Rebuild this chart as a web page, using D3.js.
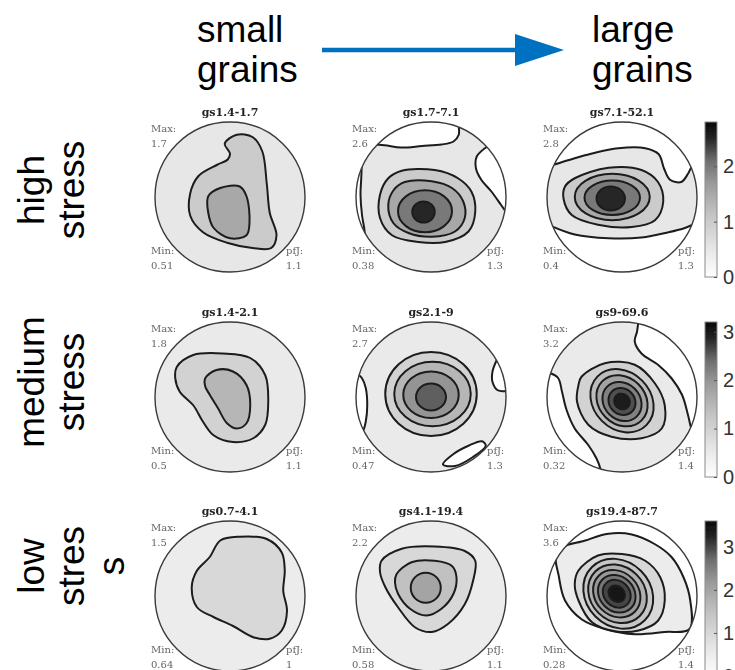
<!DOCTYPE html>
<html>
<head>
<meta charset="utf-8">
<script src="https://cdn.jsdelivr.net/npm/d3@7"></script>
<style>
  html, body { margin: 0; padding: 0; background: #fff; }
  svg { display: block; }
</style>
</head>
<body>
<svg id="fig" width="735" height="670"></svg>
<script>
// ---- labels -------------------------------------------------------------
const columnHeads = [["small", "grains"], ["large", "grains"]];
const rowLabels = [["high", "stress"], ["medium", "stress"], ["low", "stres", "s"]];

// ---- per-panel statistics (rows: stress level, columns: grain size bin) ---
const titles = [
  ["gs1.4-1.7", "gs1.7-7.1", "gs7.1-52.1"],
  ["gs1.4-2.1", "gs2.1-9", "gs9-69.6"],
  ["gs0.7-4.1", "gs4.1-19.4", "gs19.4-87.7"]
];
const maxVals = [[1.7, 2.6, 2.8], [1.8, 2.7, 3.2], [1.5, 2.2, 3.6]];
const minVals = [[0.51, 0.38, 0.4], [0.5, 0.47, 0.32], [0.64, 0.58, 0.28]];
const pfjVals = [[1.1, 1.3, 1.3], [1.1, 1.3, 1.4], [1, 1.1, 1.4]];
const colorbarTicks = [[0, 1, 2], [0, 1, 2, 3], [0, 1, 2, 3]];

// density band that fills the disk before any contour is drawn
const baseBands = [[0.5, 0.5, 0.5], [0.5, 0.5, 0.5], [0.5, 0.5, 0]];

// ---- contour regions, in pole-figure coordinates (unit disk, y up) --------
// band: lower density bound of the enclosed region (0 = below the lowest level)
// pts: contour line; out: points beyond the rim that close a region cut by it
// e/ax/rot: near-elliptic contour (centre, semi-axes, tilt in degrees)
const pf11 = [
  { band: 1, pts: [[-0.07,0.71],[0.09,0.83],[0.30,0.80],[0.43,0.61],[0.49,0.18],[0.53,-0.21],[0.62,-0.51],[0.55,-0.68],[0.30,-0.68],[-0.04,-0.61],[-0.36,-0.47],[-0.53,-0.25],[-0.53,0.05],[-0.42,0.28],[-0.17,0.43],[-0.03,0.50],[0.00,0.58]] },
  { band: 1.5, pts: [[-0.29,0.01],[-0.13,0.12],[0.13,0.14],[0.22,0.01],[0.26,-0.34],[0.22,-0.51],[0.0,-0.55],[-0.22,-0.41],[-0.29,-0.21]] }
];
const pf12 = [
  { band: 0, pts: [[-0.78,0.70],[-0.62,0.69],[-0.40,0.66],[-0.12,0.68],[0.14,0.70],[0.30,0.74],[0.37,0.83],[0.37,0.96],[0.38,1.06]], out: [[0.45,1.3],[-0.9,1.2]] },
  { band: 0, pts: [[0.76,0.68],[0.61,0.54],[0.60,0.38],[0.67,0.23],[0.80,0.08],[0.93,-0.10],[1.0,-0.2]], out: [[1.3,-0.2],[1.2,0.8]] },
  { band: 0, pts: [[-0.90,0.56],[-0.92,0.45],[-0.93,0.25],[-0.94,0.03],[-0.92,-0.24],[-0.89,-0.42],[-0.88,-0.52]], out: [[-1.3,-0.5],[-1.3,0.6]] },
  { band: 1, pts: [[-0.39,0.35],[0.05,0.36],[0.36,0.25],[0.54,0.07],[0.59,-0.20],[0.50,-0.46],[0.19,-0.60],[-0.17,-0.60],[-0.52,-0.51],[-0.68,-0.28],[-0.68,0.03],[-0.57,0.25]] },
  { band: 1.5, pts: [[-0.35,0.20],[0.01,0.21],[0.28,0.12],[0.43,-0.06],[0.45,-0.28],[0.32,-0.46],[0.01,-0.53],[-0.30,-0.48],[-0.50,-0.35],[-0.57,-0.11],[-0.50,0.09]] },
  { band: 2, e: [-0.08,-0.19], ax: [0.36,0.28] },
  { band: 2.5, e: [-0.10,-0.20], ax: [0.15,0.14] }
];
const pf13 = [
  { band: 0, pts: [[-1.0,0.42],[-0.92,0.43],[-0.72,0.49],[-0.40,0.58],[-0.05,0.65],[0.31,0.65],[0.49,0.57],[0.56,0.38],[0.64,0.23],[0.79,0.20],[0.88,0.31],[0.93,0.40],[0.97,0.42]], out: [[1.3,0.5],[0.9,1.3],[-0.9,1.3],[-1.3,0.5]] },
  { band: 0, pts: [[-1.0,-0.36],[-0.96,-0.38],[-0.63,-0.50],[-0.18,-0.55],[0.26,-0.54],[0.62,-0.47],[0.82,-0.42],[0.92,-0.38],[0.98,-0.35]], out: [[1.3,-0.4],[0.9,-1.3],[-0.9,-1.3],[-1.3,-0.4]] },
  { band: 1, pts: [[-0.63,0.25],[-0.18,0.39],[0.26,0.36],[0.48,0.20],[0.55,-0.06],[0.44,-0.31],[0.13,-0.40],[-0.32,-0.37],[-0.67,-0.24],[-0.78,-0.02],[-0.76,0.14]] },
  { band: 1.5, e: [-0.13,0.0], ax: [0.50,0.31] },
  { band: 2, e: [-0.13,-0.01], ax: [0.37,0.23] },
  { band: 2.5, e: [-0.15,-0.02], ax: [0.19,0.16] }
];
const pf21 = [
  { band: 1, pts: [[-0.71,0.40],[-0.49,0.56],[-0.09,0.58],[0.27,0.52],[0.47,0.29],[0.51,-0.06],[0.47,-0.37],[0.31,-0.55],[0.04,-0.60],[-0.22,-0.51],[-0.36,-0.33],[-0.49,-0.11],[-0.67,0.07],[-0.73,0.25]] },
  { band: 1.5, pts: [[-0.33,0.25],[-0.18,0.36],[0.04,0.34],[0.22,0.16],[0.27,-0.11],[0.22,-0.35],[0.09,-0.42],[-0.04,-0.35],[-0.16,-0.15],[-0.27,0.03],[-0.33,0.14]] }
];
const pf22 = [
  { band: 0, pts: [[-0.97,0.30],[-0.92,0.25],[-0.87,0.12],[-0.85,-0.11],[-0.87,-0.33],[-0.90,-0.44],[-0.93,-0.48]], out: [[-1.3,-0.5],[-1.3,0.3]] },
  { band: 0, pts: [[0.88,0.50],[0.82,0.34],[0.82,0.20],[0.89,0.09],[1.0,0.08]], out: [[1.3,0.1],[1.2,0.6]] },
  { band: 0, pts: [[0.16,-0.90],[0.30,-0.76],[0.50,-0.65],[0.68,-0.59],[0.73,-0.65],[0.56,-0.80],[0.32,-0.92]] },
  { band: 1, e: [0.0,0.04], ax: [0.61,0.56] },
  { band: 1.5, e: [0.02,0.04], ax: [0.51,0.43] },
  { band: 2, e: [0.0,0.03], ax: [0.37,0.31] },
  { band: 2.5, e: [0.0,0.0], ax: [0.20,0.18] }
];
const pf23 = [
  { band: 0, pts: [[0.22,1.02],[0.20,0.87],[0.17,0.74],[0.26,0.58],[0.48,0.43],[0.66,0.25],[0.80,0.03],[0.88,-0.24],[0.91,-0.37],[0.93,-0.44]], out: [[1.3,-0.4],[1.2,1.0],[0.3,1.3]] },
  { band: 0, pts: [[-1.02,0.33],[-0.96,0.32],[-0.85,0.25],[-0.80,0.07],[-0.74,-0.17],[-0.63,-0.42],[-0.45,-0.64],[-0.34,-0.82],[-0.29,-0.95],[-0.28,-1.03]], out: [[-0.3,-1.3],[-1.3,-1.0],[-1.3,0.4]] },
  { band: 1, pts: [[-0.54,0.27],[-0.23,0.45],[0.17,0.43],[0.44,0.18],[0.57,-0.11],[0.53,-0.42],[0.26,-0.55],[-0.14,-0.53],[-0.45,-0.37],[-0.60,-0.06],[-0.58,0.16]] },
  { band: 1.4, e: [0.0,-0.05], ax: [0.46,0.38], rot: -45 },
  { band: 1.8, e: [0.0,-0.05], ax: [0.37,0.31], rot: -45 },
  { band: 2.2, e: [0.0,-0.06], ax: [0.28,0.24], rot: -45 },
  { band: 2.6, e: [0.0,-0.06], ax: [0.19,0.17], rot: -45 },
  { band: 3.0, e: [0.0,-0.06], ax: [0.11,0.10], rot: -45 }
];
const pf31 = [
  { band: 1, pts: [[-0.13,0.74],[0.13,0.79],[0.49,0.76],[0.69,0.58],[0.73,0.34],[0.71,0.07],[0.76,-0.20],[0.69,-0.46],[0.53,-0.57],[0.31,-0.55],[0.04,-0.40],[-0.22,-0.28],[-0.44,-0.15],[-0.51,0.12],[-0.44,0.34],[-0.27,0.52]] }
];
const pf32 = [
  { band: 1, pts: [[-0.66,0.47],[-0.39,0.63],[0.05,0.66],[0.45,0.60],[0.59,0.47],[0.56,0.20],[0.45,-0.11],[0.23,-0.37],[0.01,-0.48],[-0.21,-0.42],[-0.44,-0.15],[-0.61,0.12],[-0.68,0.32]] },
  { band: 1.5, pts: [[-0.46,0.29],[-0.26,0.45],[0.05,0.47],[0.28,0.40],[0.34,0.25],[0.30,0.03],[0.14,-0.17],[-0.06,-0.26],[-0.28,-0.17],[-0.44,0.03],[-0.48,0.18]] },
  { band: 2, e: [-0.07,0.11], ax: [0.20,0.20] }
];
const pf33 = [
  { band: 0.5, pts: [[-0.87,0.60],[-0.49,0.74],[-0.18,0.83],[0.13,0.82],[0.44,0.69],[0.66,0.52],[0.82,0.25],[0.91,-0.06],[0.90,-0.44],[0.57,-0.48],[0.17,-0.51],[-0.23,-0.44],[-0.54,-0.31],[-0.76,-0.06],[-0.84,0.25]] },
  { band: 1, pts: [[-0.58,0.34],[-0.32,0.54],[0.0,0.56],[0.31,0.47],[0.51,0.25],[0.57,-0.06],[0.48,-0.33],[0.22,-0.46],[-0.09,-0.47],[-0.40,-0.35],[-0.58,-0.06],[-0.63,0.16]] },
  { band: 1.4, e: [-0.05,0.03], ax: [0.50,0.43], rot: -45 },
  { band: 1.8, e: [-0.06,0.03], ax: [0.42,0.36], rot: -45 },
  { band: 2.2, e: [-0.07,0.03], ax: [0.34,0.29], rot: -45 },
  { band: 2.6, e: [-0.07,0.03], ax: [0.27,0.23], rot: -45 },
  { band: 3.0, e: [-0.07,0.03], ax: [0.20,0.17], rot: -45 },
  { band: 3.4, e: [-0.07,0.03], ax: [0.12,0.10], rot: -45 }
];
const contourSets = [[pf11, pf12, pf13], [pf21, pf22, pf23], [pf31, pf32, pf33]];

// ---- layout -------------------------------------------------------------
const colX = [230, 431, 622];
const rowY = [197, 397, 596];
const R = 75;
const labelCenters = [190, 382, 566];

const svg = d3.select("#fig");
const defs = svg.append("defs");
defs.append("filter").attr("id", "soft").attr("x", "-5%").attr("y", "-5%").attr("width", "110%").attr("height", "110%")
  .append("feGaussianBlur").attr("stdDeviation", 0.5);

// white -> black grey ramp used both for contour fills and for the colour bars
const tone = d3.scaleLinear()
  .domain([0, 0.2, 0.4, 0.6, 0.75, 0.9, 1])
  .range([255, 228, 196, 155, 110, 35, 10])
  .clamp(true);
const shade = (v, vmax) => { const g = Math.round(tone(v / vmax)); return d3.rgb(g, g, g).formatHex(); };

const closedLine = d3.line().curve(d3.curveCatmullRomClosed.alpha(0.5));
const openLine = d3.line().curve(d3.curveCatmullRom.alpha(0.5));
const LINE = "#1c1c1c";

// ---- header --------------------------------------------------------------
const headX = [197, 592];
columnHeads.forEach((lines, i) => {
  const t = svg.append("text")
    .attr("font-family", "'Liberation Sans', Arial, sans-serif")
    .attr("font-size", 37).attr("fill", "#000");
  lines.forEach((s, k) => t.append("tspan").attr("x", headX[i]).attr("y", 42 + k * 40).text(s));
});
svg.append("line").attr("x1", 322).attr("y1", 50).attr("x2", 520).attr("y2", 50)
  .attr("stroke", "#0070c0").attr("stroke-width", 4.5);
svg.append("path").attr("d", "M515,34 L564,50 L515,66 Z").attr("fill", "#0070c0");

// ---- row labels (rotated, one text line per entry) -------------------------
rowLabels.forEach((lines, r) => {
  lines.forEach((s, k) => {
    svg.append("text")
      .attr("transform", `translate(${44 + k * 40},${labelCenters[r]}) rotate(-90)`)
      .attr("text-anchor", "middle")
      .attr("font-family", "'Liberation Sans', Arial, sans-serif")
      .attr("font-size", 37).attr("fill", "#000")
      .text(s);
  });
});

// ---- pole figures --------------------------------------------------------
const serif = "'DejaVu Serif', 'Liberation Serif', serif";
contourSets.forEach((row, r) => {
  const vmax = d3.max(maxVals[r]);
  row.forEach((regions, c) => {
    const cx = colX[c], cy = rowY[r];
    const x = d3.scaleLinear([-1, 1], [cx - R, cx + R]);
    const y = d3.scaleLinear([-1, 1], [cy + R, cy - R]);
    const id = `disk${r}${c}`;
    defs.append("clipPath").attr("id", id)
      .append("circle").attr("cx", cx).attr("cy", cy).attr("r", R);

    const g = svg.append("g").attr("filter", "url(#soft)");
    const body = g.append("g").attr("clip-path", `url(#${id})`);
    body.append("circle").attr("cx", cx).attr("cy", cy).attr("r", R)
      .attr("fill", shade(baseBands[r][c], vmax));

    regions.forEach(reg => {
      const fill = shade(reg.band, vmax);
      if (reg.e) {
        const ex = x(reg.e[0]), ey = y(reg.e[1]);
        body.append("ellipse")
          .attr("cx", ex).attr("cy", ey)
          .attr("rx", x(reg.ax[0]) - x(0)).attr("ry", y(0) - y(reg.ax[1]))
          .attr("transform", `rotate(${-(reg.rot || 0)},${ex},${ey})`)
          .attr("fill", fill).attr("stroke", LINE).attr("stroke-width", 2);
      } else if (reg.out) {
        const P = reg.pts.map(d => [x(d[0]), y(d[1])]);
        const O = reg.out.map(d => [x(d[0]), y(d[1])]);
        body.append("path")
          .attr("d", openLine(P) + O.map(d => `L${d[0]},${d[1]}`).join("") + "Z")
          .attr("fill", fill);
        body.append("path").attr("d", openLine(P))
          .attr("fill", "none").attr("stroke", LINE).attr("stroke-width", 2);
      } else {
        const P = reg.pts.map(d => [x(d[0]), y(d[1])]);
        body.append("path").attr("d", closedLine(P))
          .attr("fill", fill).attr("stroke", LINE).attr("stroke-width", 2);
      }
    });

    g.append("circle").attr("cx", cx).attr("cy", cy).attr("r", R)
      .attr("fill", "none").attr("stroke", "#3a3a3a").attr("stroke-width", 1.4);

    g.append("text").attr("x", cx).attr("y", cy - 81).attr("text-anchor", "middle")
      .attr("font-family", serif).attr("font-weight", "bold").attr("font-size", 11)
      .attr("fill", "#222").text(titles[r][c]);

    const small = (tx, ty, s) => g.append("text").attr("x", tx).attr("y", ty)
      .attr("font-family", serif).attr("font-size", 10).attr("fill", "#666").text(s);
    small(cx - 79, cy - 65.5, "Max:");
    small(cx - 79, cy - 50.5, String(maxVals[r][c]));
    small(cx - 79, cy + 56.5, "Min:");
    small(cx - 79, cy + 71.5, String(minVals[r][c]));
    small(cx + 56, cy + 56.5, "pfJ:");
    small(cx + 56, cy + 71.5, String(pfjVals[r][c]));
  });

  // colour bar for the row, spanning 0 .. largest maximum in that row
  const top = rowY[r] - 75, bottom = rowY[r] + 80, bx = 705, bw = 12;
  const gid = `ramp${r}`;
  const grad = defs.append("linearGradient").attr("id", gid)
    .attr("x1", 0).attr("y1", 1).attr("x2", 0).attr("y2", 0);
  d3.range(0, 1.0001, 0.05).forEach(t => {
    const g = Math.round(tone(t));
    grad.append("stop").attr("offset", t).attr("stop-color", d3.rgb(g, g, g).formatHex());
  });
  const cbScale = d3.scaleLinear([0, vmax], [bottom, top]);
  svg.append("rect").attr("x", bx).attr("y", top).attr("width", bw).attr("height", bottom - top)
    .attr("fill", `url(#${gid})`).attr("stroke", "#8a8a8a").attr("stroke-width", 1)
    .attr("filter", "url(#soft)");
  const axis = svg.append("g").attr("transform", `translate(${bx + bw},0)`)
    .call(d3.axisRight(cbScale).tickValues(colorbarTicks[r]).tickSizeInner(-3).tickSizeOuter(0).tickPadding(6).tickFormat(d3.format("d")));
  axis.select(".domain").remove();
  axis.selectAll(".tick line").attr("stroke", "#555");
  axis.selectAll(".tick text")
    .attr("font-family", "'Liberation Sans', Arial, sans-serif")
    .attr("font-size", 20).attr("fill", "#333");
});
</script>
</body>
</html>
